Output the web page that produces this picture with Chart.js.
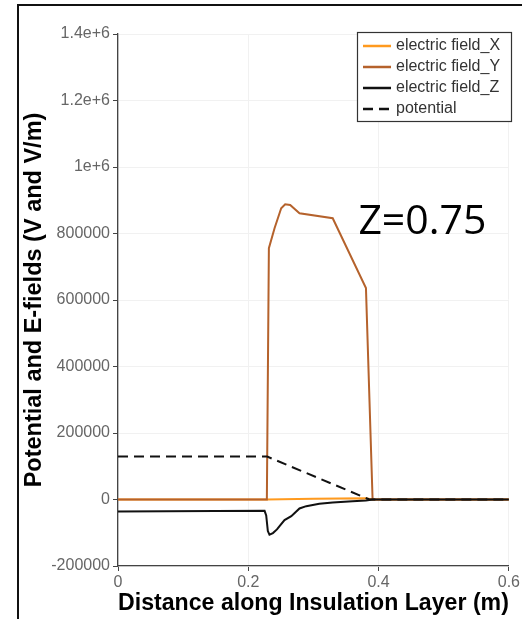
<!DOCTYPE html>
<html>
<head>
<meta charset="utf-8">
<script src="https://cdn.jsdelivr.net/npm/chart.js@4/dist/chart.umd.min.js"></script>
<style>
  html, body { margin: 0; padding: 0; background: #fff; overflow: hidden; }
  #wrap { position: relative; width: 522px; height: 619px; }
  #frame { position: absolute; left: 17px; top: 4px; width: 700px; height: 800px;
           border-left: 2px solid #111; border-top: 2px solid #111; pointer-events: none; }
  canvas { position: absolute; left: 0; top: 0; }
</style>
</head>
<body>
<div id="wrap">
  <canvas id="chart" width="522" height="619"></canvas>
  <div id="frame"></div>
</div>
<script>
// Field components and potential sampled along the insulation layer (Z = 0.75)
const distX = [0, 0.2285, 0.30, 0.38, 0.391, 0.6];
const fieldX = [0, 0, 2000, 4000, 0, 0];

const distY = [0, 0.2285, 0.2316, 0.2403, 0.2505, 0.2566, 0.2643, 0.2786, 0.3296, 0.3806, 0.3908, 0.6];
const fieldY = [0, 0, 756000, 816000, 876000, 888000, 886000, 861000, 846000, 636000, 0, 0];

const distZ = [0, 0.225, 0.2275, 0.2300, 0.2325, 0.2378, 0.2440, 0.2480, 0.2556, 0.2660, 0.2786, 0.2890, 0.3090, 0.3296, 0.3600, 0.3806, 0.3910, 0.6];
const fieldZ = [-36000, -34000, -48000, -95000, -106000, -101000, -90000, -80000, -62000, -50000, -27000, -20000, -13000, -9000, -5000, -3000, 0, 0];

const distP = [0, 0.229, 0.386, 0.6];
const potential = [129000, 129000, 0, 0];

const seriesNames = ['electric field_X', 'electric field_Y', 'electric field_Z', 'potential'];
const xTickLabels = ['0', '0.2', '0.4', '0.6'];
const yTickLabels = ['-200000', '0', '200000', '400000', '600000', '800000', '1e+6', '1.2e+6', '1.4e+6'];
const sliceLabel = 'Z=0.75';

const toPoints = (xs, ys) => xs.map((x, i) => ({ x: x, y: ys[i] }));

// Boxed legend in the upper right of the plot area
const boxLegend = {
  id: 'boxLegend',
  afterDraw(chart) {
    const ctx = chart.ctx;
    const left = 357, top = 32, w = 154, h = 89, rowH = 21;
    ctx.save();
    ctx.fillStyle = '#fff';
    ctx.fillRect(left, top, w, h);
    ctx.strokeStyle = '#333';
    ctx.lineWidth = 1.2;
    ctx.strokeRect(left + 0.5, top + 0.5, w, h);
    ctx.font = '16px "Liberation Sans", Arial, sans-serif';
    ctx.textBaseline = 'middle';
    chart.data.datasets.forEach((ds, i) => {
      const y = top + 14 + i * rowH;
      ctx.strokeStyle = ds.borderColor;
      ctx.lineWidth = 2.5;
      ctx.setLineDash(ds.borderDash || []);
      ctx.beginPath();
      ctx.moveTo(left + 6, y);
      ctx.lineTo(left + 34, y);
      ctx.stroke();
      ctx.setLineDash([]);
      ctx.fillStyle = '#333';
      ctx.fillText(ds.label, left + 39, y);
    });
    ctx.restore();
  }
};

// Slice position note next to the field peak
const sliceNote = {
  id: 'sliceNote',
  afterDraw(chart) {
    const ctx = chart.ctx;
    const xs = chart.scales.x, ys = chart.scales.y;
    ctx.save();
    ctx.font = '41px "Open Sans", sans-serif';
    ctx.fillStyle = '#000';
    ctx.textBaseline = 'alphabetic';
    ctx.fillText(sliceLabel, xs.getPixelForValue(0.369), ys.getPixelForValue(800000));
    ctx.restore();
  }
};

const tickFont = { family: '"Liberation Sans", Arial, sans-serif', size: 16 };
const titleFont = { family: '"Liberation Sans", Arial, sans-serif', size: 23.5, weight: 'bold' };

new Chart(document.getElementById('chart'), {
  type: 'line',
  data: {
    datasets: [
      { label: seriesNames[0], data: toPoints(distX, fieldX), borderColor: '#ff9a1e', borderWidth: 2, order: 4 },
      { label: seriesNames[1], data: toPoints(distY, fieldY), borderColor: '#b5622c', borderWidth: 2, order: 3 },
      { label: seriesNames[2], data: toPoints(distZ, fieldZ), borderColor: '#111111', borderWidth: 2, order: 1 },
      { label: seriesNames[3], data: toPoints(distP, potential), borderColor: '#111111', borderWidth: 2, borderDash: [10, 6], order: 2 }
    ]
  },
  options: {
    responsive: false,
    animation: false,
    devicePixelRatio: 1,
    layout: { padding: { left: 19, right: 12, top: 34, bottom: 0 } },
    elements: { point: { radius: 0 }, line: { tension: 0, fill: false } },
    plugins: { legend: { display: false }, tooltip: { enabled: false } },
    scales: {
      x: {
        type: 'linear',
        min: 0, max: 0.6,
        afterFit(scale) { scale.height = 53; },
        ticks: {
          stepSize: 0.2, color: '#666', font: tickFont, padding: 2, maxRotation: 0,
          callback: (v, i) => xTickLabels[i]
        },
        grid: { color: '#f1f1f1', tickColor: '#444', tickLength: 5, lineWidth: 1 },
        border: { color: '#444', width: 1.3 },
        title: { display: true, text: 'Distance along Insulation Layer (m)', color: '#000', font: titleFont, padding: { top: 0, bottom: 1 } }
      },
      y: {
        type: 'linear',
        min: -200000, max: 1400000,
        afterFit(scale) { scale.width = 99; },
        ticks: {
          stepSize: 200000, color: '#666', font: tickFont, padding: 3,
          callback: (v, i) => yTickLabels[i]
        },
        grid: { color: '#f1f1f1', tickColor: '#444', tickLength: 5, lineWidth: 1 },
        border: { color: '#444', width: 1.3 },
        title: { display: true, text: 'Potential and E-fields (V and V/m)', color: '#000', font: titleFont, padding: { top: 1, bottom: 0 } }
      }
    }
  },
  plugins: [boxLegend, sliceNote]
});
</script>
</body>
</html>
